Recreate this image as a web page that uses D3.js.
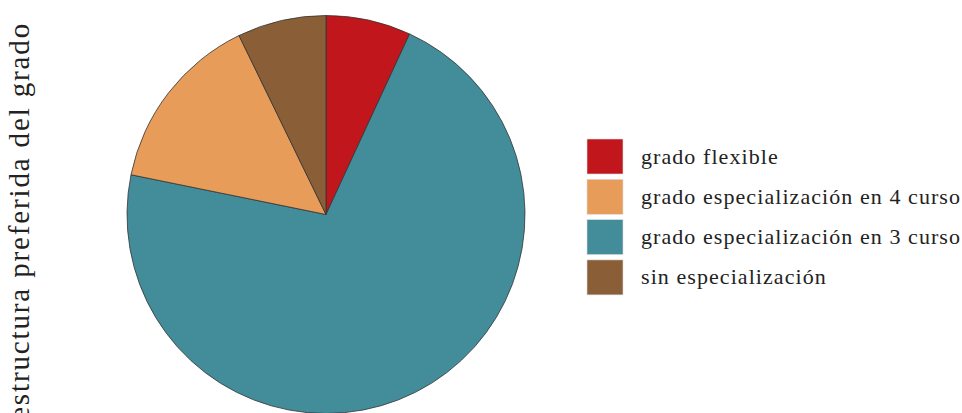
<!DOCTYPE html>
<html>
<head>
<meta charset="utf-8">
<script src="https://d3js.org/d3.v7.min.js"></script>
<style>
  body { margin: 0; background: #fff; }
  text { font-family: "Palatino Linotype", "Book Antiqua", Palatino, "Liberation Serif", serif; fill: #222; }
</style>
</head>
<body>
<svg id="chart" width="962" height="413"></svg>
<script>
// slices in drawing order (clockwise from 12 o'clock)
var sliceNames = ["grado flexible", "grado especialización en 3 curso", "grado especialización en 4 curso", "sin especialización"];
var sliceValues = [6.9, 71.3, 14.6, 7.2];
// legend order
var legendNames = ["grado flexible", "grado especialización en 4 curso", "grado especialización en 3 curso", "sin especialización"];
var colors = ["#c1171c", "#e89c59", "#438d9a", "#8a5f38"];
var yLabel = "estructura preferida del grado";

var svg = d3.select("#chart");
var cx = 326, cy = 214.5, r = 199;

var color = d3.scaleOrdinal().domain(legendNames).range(colors);

var pie = d3.pie().sort(null).value(function(d, i) { return sliceValues[i]; });
var arc = d3.arc().innerRadius(0).outerRadius(r);

svg.append("g")
   .attr("transform", "translate(" + cx + "," + cy + ")")
   .selectAll("path")
   .data(pie(sliceNames))
   .enter()
   .append("path")
     .attr("d", arc)
     .attr("fill", function(d) { return color(d.data); })
     .attr("stroke", "#333")
     .attr("stroke-width", 0.8);

// stretch text to the width the reference font gives
function fitSpacing(sel, target) {
  var node = sel.node();
  var n = node.getNumberOfChars();
  var w = node.getComputedTextLength();
  return (target - w) / (n - 1);
}

// rotated y label (cut at the bottom edge, as in the reference)
var yl = svg.append("text")
   .attr("transform", "translate(29,22) rotate(-90)")
   .attr("text-anchor", "end")
   .attr("font-size", 29)
   .text(yLabel);
yl.attr("letter-spacing", fitSpacing(yl, 396));

// legend
var legend = svg.append("g").attr("transform", "translate(587,139)");
var rows = legend.selectAll("g")
   .data(legendNames)
   .enter()
   .append("g")
   .attr("transform", function(d, i) { return "translate(0," + (i * 40.3) + ")"; });

rows.append("rect")
   .attr("width", 36)
   .attr("height", 35)
   .attr("fill", function(d) { return color(d); })
   .attr("stroke", "#ddd")
   .attr("stroke-width", 0.6);

rows.append("text")
   .attr("x", 54)
   .attr("y", 24.5)
   .attr("font-size", 22)
   .text(function(d) { return d; });

var ls = fitSpacing(d3.select(rows.selectAll("text").nodes()[1]), 319);
rows.selectAll("text").attr("letter-spacing", ls);
</script>
</body>
</html>
